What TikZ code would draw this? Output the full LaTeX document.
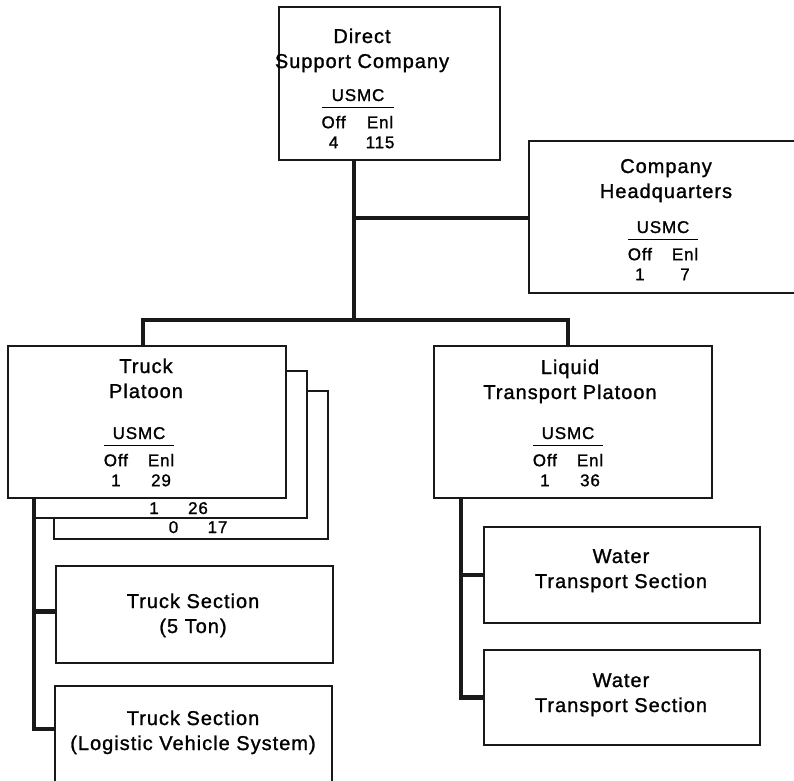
\documentclass[tikz,border=0pt]{standalone}
\usepackage{fontspec}
\setmainfont{Liberation Sans}[LetterSpace=5, FakeBold=1.2]
\setlength{\arrayrulewidth}{1.2pt}

\newcommand{\usmctab}[2]{{\fontsize{17}{20}\selectfont
  \begin{tabular}[t]{@{}c@{\hspace{20pt}}c@{}}
    \multicolumn{2}{@{}c@{}}{USMC}\\\hline
    \rule{0pt}{20pt}Off & Enl\\
    #1 & #2
  \end{tabular}}}

\begin{document}
\begin{tikzpicture}[x=1pt, y=-1pt,
  box/.style={rectangle, draw=black!90, line width=1.9pt, fill=white, inner sep=0pt},
  conn/.style={draw=black!90, line width=4.8pt},
  title/.style={align=center, anchor=base, inner sep=0pt, font=\fontsize{20}{25}\selectfont},
  tab/.style={anchor=base, inner sep=0pt},
  small/.style={anchor=base, inner sep=0pt, font=\fontsize{17}{20}\selectfont}
]
\useasboundingbox (0,0) rectangle (794,780);

% boxes
\node[box, minimum width=221pt, minimum height=153pt] (dsc) at (389.5,83.5) {};
\node[box, minimum width=281pt, minimum height=152pt] (hq) at (669.5,217) {};
\node[box, minimum width=274pt, minimum height=148pt] (tp3) at (191,465) {};
\node[box, minimum width=272pt, minimum height=147pt] (tp2) at (171,444.5) {};
\node[box, minimum width=278pt, minimum height=152pt] (tp) at (147,422) {};
\node[box, minimum width=278pt, minimum height=152pt] (ltp) at (573,422) {};
\node[box, minimum width=277pt, minimum height=97pt] (ts5) at (194.5,614.5) {};
\node[box, minimum width=277pt, minimum height=104pt] (tslvs) at (193.5,738) {};
\node[box, minimum width=276pt, minimum height=96pt] (wts1) at (622,575) {};
\node[box, minimum width=276pt, minimum height=95pt] (wts2) at (622,697.5) {};

% texts (base = last line)
\node[title] (dsc-t) at (362,68) {Direct\\Support Company};
\node[tab] (dsc-n) at (358,101) {\usmctab{4}{115}};
\node[title] (hq-t) at (666,198) {Company\\Headquarters};
\node[tab] (hq-n) at (663,233) {\usmctab{1}{7}};
\node[title] (tp-t) at (146,398) {Truck\\Platoon};
\node[tab] (tp-n) at (139,439) {\usmctab{1}{29}};
\node[small] (tp2-n) at (176,514) {\makebox[30pt]{1}\hspace{14pt}\makebox[30pt]{26}};
\node[small] (tp3-n) at (195.5,533) {\makebox[30pt]{0}\hspace{14pt}\makebox[30pt]{17}};
\node[title] (ltp-t) at (570,399) {Liquid\\Transport Platoon};
\node[tab] (ltp-n) at (568,439) {\usmctab{1}{36}};
\node[title] (ts5-t) at (193,633) {Truck Section\\(5 Ton)};
\node[title] (tslvs-t) at (193,750) {Truck Section\\(Logistic Vehicle System)};
\node[title] (wts1-t) at (621,588) {Water\\Transport Section};
\node[title] (wts2-t) at (621,712) {Water\\Transport Section};

% connectors
\coordinate (hqj) at (354,218);
\coordinate (barj) at (354,320);
\draw[conn] (dsc.south -| hqj) -- (barj);
\draw[conn] (hqj) -- (hqj -| hq.west);
\draw[conn] ([xshift=-4pt]tp.north) |- (barj) -| ([xshift=-5pt]ltp.north);
\draw[conn] ([xshift=27pt]tp.south west) |- ([yshift=-44pt]tslvs.north west);
\draw[conn] ([yshift=3pt]ts5.west -| 35,0) -- ([yshift=3pt]ts5.west);
\draw[conn] ([xshift=28pt]ltp.south west) |- (wts2.west);
\draw[conn] (wts1.west -| 462,0) -- (wts1.west);

\end{tikzpicture}
\end{document}
